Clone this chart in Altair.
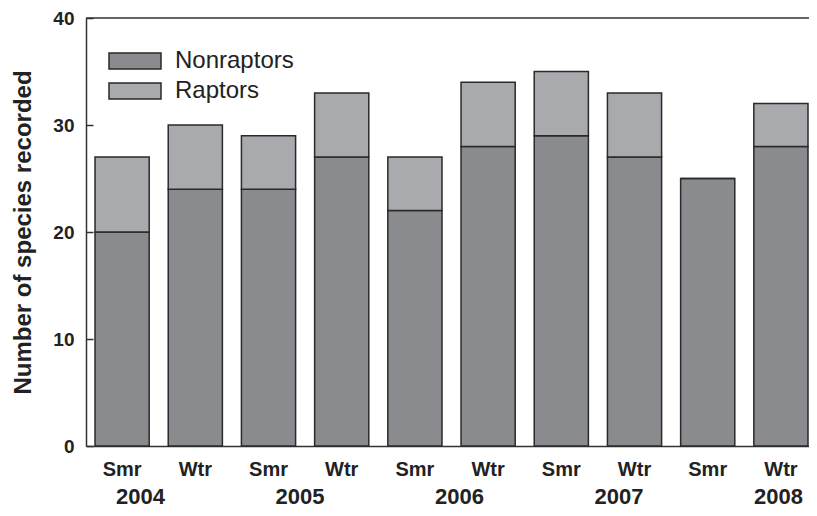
import altair as alt
import pandas as pd

periods = ["2004 Smr", "2004 Wtr", "2005 Smr", "2005 Wtr", "2006 Smr",
           "2006 Wtr", "2007 Smr", "2007 Wtr", "2008 Smr", "2008 Wtr"]
nonraptors = [20, 24, 24, 27, 22, 28, 29, 27, 25, 28]
raptors = [7, 6, 5, 6, 5, 6, 6, 6, 0, 4]
years = ["2004", "2005", "2006", "2007", "2008"]
y_ticks = [0, 10, 20, 30, 40]
groups = ["Nonraptors", "Raptors"]
colors = ["#8a8b8f", "#a9aaad"]

rows = []
for p, n, r in zip(periods, nonraptors, raptors):
    rows.append({"period": p, "type": "Nonraptors", "value": n, "ord": 0})
    rows.append({"period": p, "type": "Raptors", "value": r, "ord": 1})
df = pd.DataFrame(rows)

W, H = 723, 428
FONT = "Liberation Sans"
TXT = "#222222"
EDGE = "#2a2a2a"

# legend swatch: 6.5 x 2 units, left edge at the symbol's box edge
rect_path = "M-1,-1H5.5V1H-1Z"

bars = alt.Chart(df).mark_bar(stroke=EDGE, strokeWidth=1.5).encode(
    x=alt.X("period:N", sort=periods,
            scale=alt.Scale(paddingInner=0.26, paddingOuter=0.0685, align=0.9),
            axis=alt.Axis(title=None, labelExpr="split(datum.label, ' ')[1]",
                          labelAngle=0, labelFont=FONT, labelFontSize=20,
                          labelFontWeight="bold", labelColor=TXT, labelPadding=13,
                          ticks=False, domainColor="#333333", domainWidth=1.5,
                          orient="bottom")),
    y=alt.Y("value:Q", stack="zero",
            scale=alt.Scale(domain=[0, 40], nice=False),
            axis=alt.Axis(title="Number of species recorded", values=y_ticks,
                          grid=False, ticks=False, labelPadding=12,
                          labelFont=FONT, labelFontSize=19, labelFontWeight="bold",
                          labelColor=TXT, domainColor="#333333", domainWidth=1.5,
                          titleFont=FONT, titleFontSize=24, titleFontWeight="bold",
                          titleColor=TXT, titleAngle=270, titleX=-56, titleY=H / 2,
                          titleAlign="center", titleBaseline="alphabetic")),
    color=alt.Color("type:N", scale=alt.Scale(domain=groups, range=colors),
                    legend=alt.Legend(title=None, orient="none", legendX=19, legendY=31,
                                      symbolType=rect_path, symbolSize=256,
                                      symbolStrokeColor=EDGE, symbolStrokeWidth=1.5,
                                      symbolOpacity=1,
                                      labelFont=FONT, labelFontSize=24, labelColor=TXT,
                                      labelOffset=46, rowPadding=6)),
    order=alt.Order("ord:Q"),
)

year_df = pd.DataFrame({"year": years})
year_axis = alt.Chart(year_df).mark_point(opacity=0).encode(
    x=alt.X("year:N", sort=years,
            scale=alt.Scale(type="point", padding=0.2665, align=0.635),
            axis=alt.Axis(title=None, orient="bottom", labelAngle=0, domain=False,
                          ticks=False, labelPadding=40, labelFont=FONT,
                          labelFontSize=22, labelFontWeight="bold", labelColor=TXT)),
    y=alt.value(0),
)

top_df = pd.DataFrame({"v": [40]})
top_rule = alt.Chart(top_df).mark_rule(color="#333333", strokeWidth=1.5).encode(
    y=alt.Y("v:Q", scale=alt.Scale(domain=[0, 40], nice=False),
            axis=alt.Axis(orient="right", offset=-W, labels=False, domain=False,
                          ticks=True, tickSize=7, tickWidth=1.5, tickColor="#333333",
                          values=y_ticks, grid=False, title=None)),
)

chart = alt.layer(bars, year_axis, top_rule).resolve_scale(
    x="independent"
).resolve_axis(
    x="independent", y="independent"
).properties(
    width=W, height=H,
    autosize=alt.AutoSizeParams(type="none"),
    padding={"left": 78, "top": 10, "right": 0, "bottom": 62},
).configure_view(stroke=None)

chart.save("out.html", embed_options={"renderer": "svg", "actions": False})
